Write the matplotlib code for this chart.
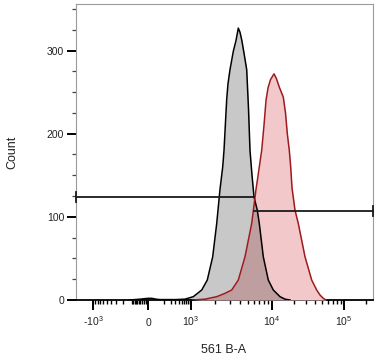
import numpy as np
import matplotlib
matplotlib.use("Agg")
import matplotlib.pyplot as plt
from matplotlib.ticker import FixedLocator, NullFormatter

plt.rcParams['font.family'] = ['Liberation Sans', 'DejaVu Sans']
plt.rcParams['mathtext.fontset'] = 'custom'
plt.rcParams['mathtext.rm'] = 'Liberation Sans'

# ---- data (fluorescence intensity, count) ----
gray_x = [-120, -42, 0, 16, 38, 67, 187, 313, 636, 1068, 1356, 1589, 1853,
          2077, 2280, 2463, 2556, 2758, 2862, 3030, 3328, 3593, 3837, 4026,
          4226, 4511, 4872, 5128, 5350, 5664, 5996, 6584, 6970, 7808, 9001,
          10425, 12915, 15157, 17783]
gray_y = [0, 1, 2, 2, 1, 0.5, 0.5, 0.5, 1, 4, 12, 24, 52,
          92, 133, 160, 180, 241, 260, 277, 299, 312, 327, 322,
          313, 297, 277, 230, 180, 150, 124, 108, 92, 52, 24,
          12, 4, 1, 0]

red_x = [1058, 1489, 2077, 2630, 3181, 3837, 4642, 5616, 6345, 6622, 7460,
         7964, 8434, 8925, 9583, 10661, 11548, 12630, 14354, 15399, 16315,
         17389, 18186, 18957, 20865, 23195, 28729, 35589, 41763, 46416,
         51579, 56234]
red_y = [0, 1, 4, 8, 12, 24, 52, 92, 133, 145, 180,
         210, 240, 255, 265, 272, 266, 256, 244, 225, 200,
         180, 160, 135, 108, 92, 52, 24, 12, 6,
         2, 0]

gate_split = 6000
gate_left_y = 124
gate_right_y = 107

x_major = [-1000, 0, 1000, 10000, 100000]
x_major_labels = [r'-$\mathregular{10^3}$', '0', r'$\mathregular{10^3}$',
                  r'$\mathregular{10^4}$', r'$\mathregular{10^5}$']
x_minor = ([-v for v in range(100, 1000, 100)] + [-v for v in range(10, 100, 10)]
           + list(range(100, 1000, 100)) + list(range(2000, 10000, 1000))
           + list(range(20000, 100000, 10000)) + [200000])
y_major = [0, 100, 200, 300]
y_minor = [25, 50, 75, 125, 150, 175, 225, 250, 275, 325, 350]

# ---- biexponential-like display scale ----
LN = np.log10(11.0)
LP = np.log10(21.0)


def fwd(x):
    x = np.asarray(x, dtype=float)
    with np.errstate(all='ignore'):
        ax_ = np.abs(x)
        neg = 148 - 55 * np.log10(1 + ax_ / 100.0) / LN
        low = 148 + 43 * np.log10(1 + ax_ / 50.0) / LP
        mid = 191 + 81 * (np.log10(np.maximum(ax_, 1e-12)) - 3)
        high = 272 + 72 * (np.log10(np.maximum(ax_, 1e-12)) - 4)
        out = np.where(x < 0, neg, np.where(x <= 1000, low,
                       np.where(x <= 10000, mid, high)))
    return out


def inv(p):
    p = np.asarray(p, dtype=float)
    with np.errstate(all='ignore'):
        neg = -100.0 * (10 ** ((148 - p) / 55 * LN) - 1)
        low = 50.0 * (10 ** ((p - 148) / 43 * LP) - 1)
        mid = 10 ** (3 + (p - 191) / 81)
        high = 10 ** (4 + (p - 272) / 72)
        out = np.where(p < 148, neg, np.where(p <= 191, low,
                       np.where(p <= 272, mid, high)))
    return out


fig = plt.figure(figsize=(3.85, 3.63), dpi=100)
ax = fig.add_axes([76 / 385, 63 / 363, 297 / 385, 296 / 363])
ax.set_xscale('function', functions=(fwd, inv))
xlo, xhi = float(inv(76)), float(inv(373))
ax.set_xlim(xlo, xhi)
ax.set_ylim(0, 356)

gray_fill = ax.fill_between(gray_x, gray_y, 0, color='#c8c8c9', lw=0, zorder=2)
ax.fill_between(red_x, red_y, 0, color='#f3c8ca', lw=0, zorder=3)
overlap = ax.fill_between(red_x, red_y, 0, color='#bf9ea0', lw=0, zorder=3.5)
overlap.set_clip_path(gray_fill.get_paths()[0], gray_fill.get_transform())
ax.plot(gray_x, gray_y, color='black', lw=1.1, zorder=4)
ax.plot(red_x, red_y, color='#9e1a1f', lw=1.1, zorder=5)

# bisector gate
gk = dict(color='#1a1a1a', lw=1.3, zorder=6, clip_on=False)
ax.plot([xlo, gate_split], [gate_left_y, gate_left_y], **gk)
ax.plot([gate_split, xhi], [gate_right_y, gate_right_y], **gk)
ax.plot([xlo, xlo], [gate_left_y - 6, gate_left_y + 6], **gk)
ax.plot([xhi, xhi], [gate_right_y - 6, gate_right_y + 6], **gk)

ax.set_xticks(x_major, labels=x_major_labels, va='baseline')
ax.xaxis.set_minor_locator(FixedLocator(x_minor))
ax.xaxis.set_minor_formatter(NullFormatter())
ax.set_yticks(y_major)
ax.yaxis.set_minor_locator(FixedLocator(y_minor))

ax.tick_params(axis='x', which='major', length=7, width=1.4, pad=12,
               labelsize=7.5, colors='black', labelcolor='#222222')
ax.tick_params(axis='x', which='minor', length=3, width=1.0, colors='black')
ax.tick_params(axis='y', which='major', length=6.5, width=1.4, pad=2,
               labelsize=7.5, colors='black', labelcolor='#222222')
ax.tick_params(axis='y', which='minor', length=3, width=0.9, colors='#444444')

for s in ['top', 'right', 'left']:
    ax.spines[s].set_color('#9a9a9a')
    ax.spines[s].set_linewidth(0.8)
ax.spines['bottom'].set_color('black')
ax.spines['bottom'].set_linewidth(1.3)

ax.set_ylabel('Count', fontsize=9, color='#222222', va='center')
ax.yaxis.set_label_coords(-0.214, 0.5)
ax.set_xlabel('561 B-A', fontsize=9, color='#222222', va='center')
ax.xaxis.set_label_coords(0.496, -0.169)

fig.savefig('out.png', dpi=100)
